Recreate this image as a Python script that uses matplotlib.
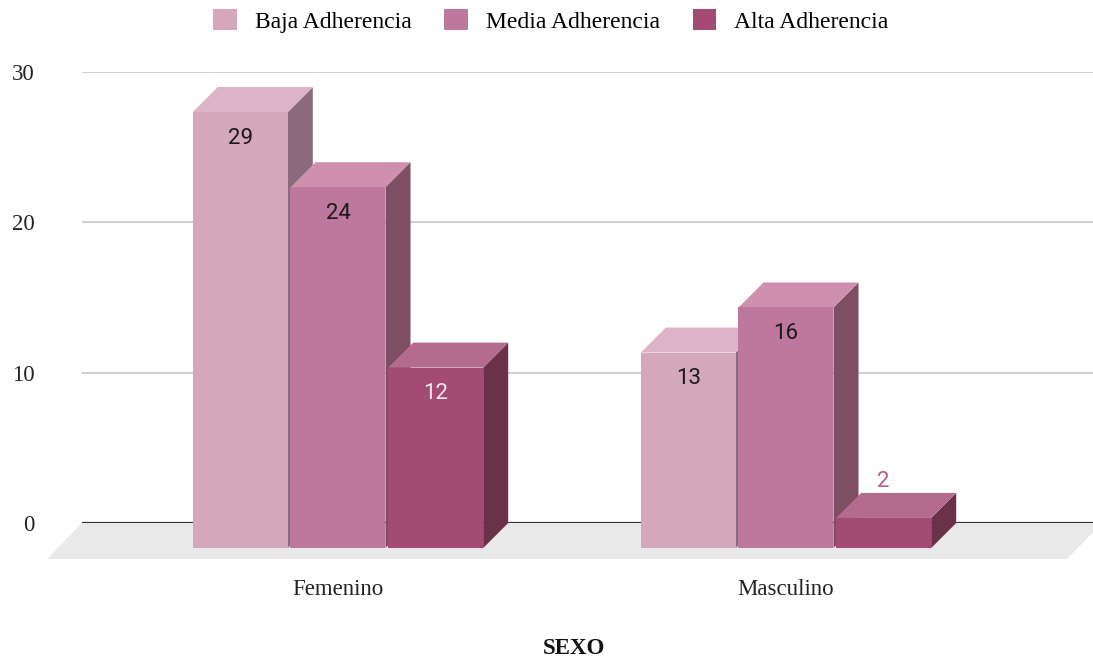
import matplotlib
matplotlib.use('Agg')
import matplotlib.pyplot as plt
from matplotlib.patches import Polygon, Patch

# Datos
categorias = ['Femenino', 'Masculino']
series = ['Baja Adherencia', 'Media Adherencia', 'Alta Adherencia']
baja = [29, 13]
media = [24, 16]
alta = [12, 2]
valores = [baja, media, alta]
yticks = [0, 10, 20, 30]

# Colores: frente, tapa, lateral
col_frente = ['#d4a7bb', '#be779d', '#a34b75']
col_tapa = ['#ddb4c7', '#cf90b0', '#b46b8f']
col_lado = ['#8a6a7b', '#7e4f63', '#6a3149']
col_texto = ['#1a1a1a', '#1a1a1a', '#f3e6ec']

serif = 'Liberation Serif'

fig = plt.figure(figsize=(10.93, 6.60), dpi=100)
W, H = 1093, 660
ax = fig.add_axes([82 / W, (H - 523) / H, (W - 82) / W, (523 - 72) / H])
ax.set_xlim((82 - 338) / 448, (1093 - 338) / 448)
ax.set_ylim(0, 30)

# pixeles por unidad de datos
pxx = ax.bbox.width / (ax.get_xlim()[1] - ax.get_xlim()[0])
pxy = ax.bbox.height / (ax.get_ylim()[1] - ax.get_ylim()[0])
dx = 25 / pxx
dy = 25 / pxy

ancho = 95 / 448
paso = 97.7 / 448

# piso
fx = 35 / pxx
fy = 36 / pxy
x0, x1 = ax.get_xlim()
xr_piso = x1 + 9 / pxx
piso = Polygon([(x0, 0), (xr_piso, 0), (xr_piso - fx, -fy), (x0 - fx, -fy)],
               closed=True, facecolor='#e9e9e9', edgecolor='none',
               zorder=0.8, clip_on=False)
ax.add_patch(piso)

for v in yticks[1:]:
    ax.axhline(v, color='#cccccc', lw=1.3, zorder=0.5)
ax.axhline(0, color='#333333', lw=1.6, zorder=1)

for g in range(len(categorias)):
    for s in range(len(series)):
        c = g + (s - 1) * paso
        v = valores[s][g]
        xl, xr = c - ancho / 2, c + ancho / 2
        lado = Polygon([(xr, -dy), (xr, v - dy), (xr + dx, v), (xr + dx, 0)],
                       closed=True, facecolor=col_lado[s], edgecolor='none',
                       zorder=2, clip_on=False)
        tapa = Polygon([(xl, v - dy), (xr, v - dy), (xr + dx, v), (xl + dx, v)],
                       closed=True, facecolor=col_tapa[s], edgecolor='none',
                       zorder=2, clip_on=False)
        ax.add_patch(lado)
        ax.add_patch(tapa)
        ax.bar(c, v, bottom=-dy, width=ancho, color=col_frente[s],
               zorder=2, clip_on=False)
        if v * pxy > 60:
            ax.text(c, v - dy - 26 / pxy, str(v), ha='center', va='center',
                    fontsize=16, family='Roboto', color=col_texto[s], zorder=3)
        else:
            ax.text(c, v + 11 / pxy, str(v), ha='center', va='center',
                    fontsize=16, family='Roboto', color='#b25d88', zorder=3)

ax.set_xticks(range(len(categorias)))
ax.set_xticklabels(categorias, fontsize=16.5, family=serif, color='#222222')
ax.set_yticks(yticks)
ax.set_yticklabels([str(t) for t in yticks], fontsize=16.5, family=serif,
                   color='#222222')
ax.tick_params(axis='x', length=0, pad=40)
ax.tick_params(axis='y', length=0, pad=34)
for sp in ax.spines.values():
    sp.set_visible(False)

fig.text(574 / W, 1 - 648 / H, 'SEXO', ha='center', va='center',
         fontsize=16.5, family=serif, fontweight='bold', color='#111111')

handles = [Patch(facecolor=col_frente[i], edgecolor='none') for i in range(3)]
fig.legend(handles, series, loc='center', bbox_to_anchor=(0.504, 0.968),
           ncol=3, frameon=False, prop={'family': serif, 'size': 17},
           handlelength=1.0, handleheight=1.0, handletextpad=0.75,
           columnspacing=1.4)

fig.savefig('out.png', dpi=100, facecolor='white')
